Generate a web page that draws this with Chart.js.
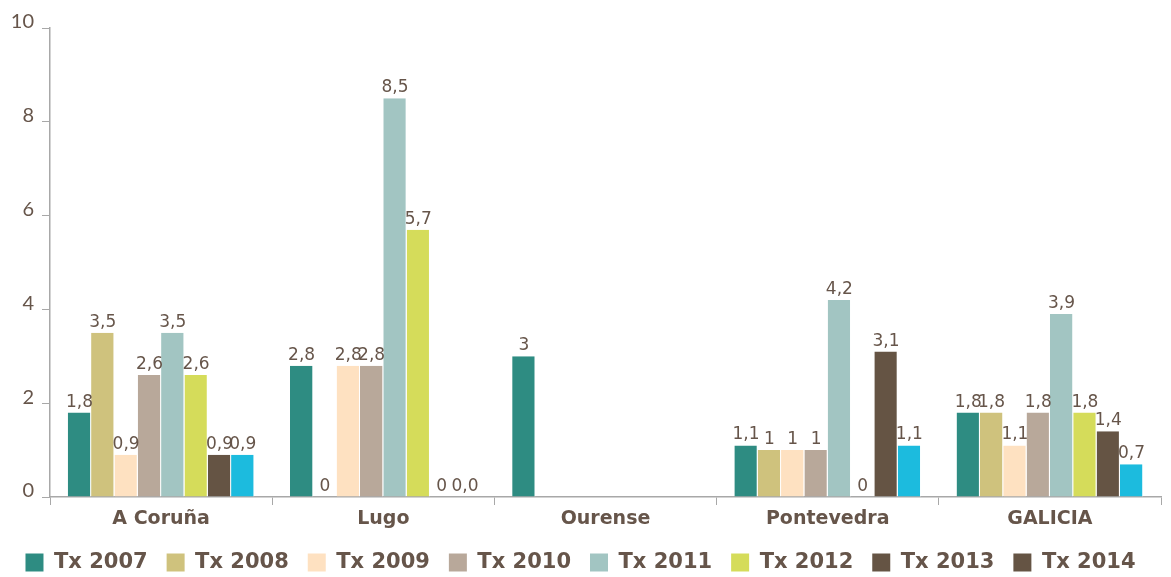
<!DOCTYPE html>
<html>
<head>
<meta charset="utf-8">
<script src="https://cdn.jsdelivr.net/npm/chart.js@4"></script>
<style>
  html, body { margin: 0; padding: 0; background: #fff; }
  #wrap { width: 1171px; height: 577px; }
</style>
</head>
<body>
<div id="wrap"><canvas id="chart"></canvas></div>
<script>
// provincias
const provincias = ['A Coruña', 'Lugo', 'Ourense', 'Pontevedra', 'GALICIA'];
const series = ['Tx 2007', 'Tx 2008', 'Tx 2009', 'Tx 2010', 'Tx 2011', 'Tx 2012', 'Tx 2013', 'Tx 2014'];

// valores por ano (null = sen dato)
const tx2007 = [1.8, 2.8, 3, 1.1, 1.8];
const tx2008 = [3.5, 0, null, 1, 1.8];
const tx2009 = [0.9, 2.8, null, 1, 1.1];
const tx2010 = [2.6, 2.8, null, 1, 1.8];
const tx2011 = [3.5, 8.5, null, 4.2, 3.9];
const tx2012 = [2.6, 5.7, null, 0, 1.8];
const tx2013 = [0.9, 0, null, 3.1, 1.4];
const tx2014 = [0.9, 0.01, null, 1.1, 0.7];

const yTicks = [0, 2, 4, 6, 8, 10];

const colors = ['#2E8C82', '#CFC27D', '#FEE1C1', '#B8A89A', '#A2C5C2', '#D5DC5A', '#655444', '#1CBBDE'];
// na lenda orixinal Tx 2014 aparece coa mesma cor ca Tx 2013
const legendColors = ['#2E8C82', '#CFC27D', '#FEE1C1', '#B8A89A', '#A2C5C2', '#D5DC5A', '#655444', '#655444'];

const textColor = '#66554A';
const axisColor = '#A8A8A8';

const allData = [tx2007, tx2008, tx2009, tx2010, tx2011, tx2012, tx2013, tx2014];

function fmt(v) {
    if (Number.isInteger(v)) return String(v);
    return v.toFixed(1).replace('.', ',');
}

// etiquetas enriba das barras
const valueLabels = {
    id: 'valueLabels',
    afterDatasetsDraw(chart) {
        const ctx = chart.ctx;
        ctx.save();
        ctx.font = '17px "DejaVu Sans"';
        ctx.fillStyle = textColor;
        ctx.textAlign = 'center';
        ctx.textBaseline = 'alphabetic';
        chart.data.datasets.forEach((ds, i) => {
            const meta = chart.getDatasetMeta(i);
            meta.data.forEach((bar, j) => {
                const v = ds.data[j];
                if (v === null || v === undefined) return;
                ctx.fillText(fmt(v), bar.x, bar.y - 6);
            });
        });
        ctx.restore();
    }
};

new Chart(document.getElementById('chart'), {
    type: 'bar',
    data: {
        labels: provincias,
        datasets: series.map((name, i) => ({
            label: name,
            data: allData[i],
            backgroundColor: colors[i],
            borderColor: '#ffffff',
            borderWidth: { top: 0, left: 0, right: 1, bottom: 0 },
            borderSkipped: false,
            categoryPercentage: 0.84,
            barPercentage: 1
        }))
    },
    options: {
        responsive: true,
        maintainAspectRatio: false,
        animation: false,
        layout: { padding: { top: 28, right: 10, left: 0, bottom: -6 } },
        plugins: {
            tooltip: { enabled: false },
            legend: {
                position: 'bottom',
                labels: {
                    boxWidth: 18,
                    boxHeight: 18,
                    padding: 19,
                    color: textColor,
                    font: { family: 'DejaVu Sans', size: 21, weight: 'bold' },
                    generateLabels(chart) {
                        const items = Chart.defaults.plugins.legend.labels.generateLabels(chart);
                        items.forEach((it, i) => {
                            it.fillStyle = legendColors[i];
                            it.strokeStyle = legendColors[i];
                            it.lineWidth = 0;
                        });
                        return items;
                    }
                }
            }
        },
        scales: {
            x: {
                grid: { drawOnChartArea: false, tickLength: 8, color: axisColor, offset: true },
                border: { color: axisColor, width: 1.5 },
                ticks: {
                    color: textColor,
                    padding: 3,
                    font: { family: 'DejaVu Sans', size: 19, weight: 'bold' }
                },
                afterFit(scale) { scale.height = 36; }
            },
            y: {
                min: 0,
                max: 10,
                afterBuildTicks(scale) { scale.ticks = yTicks.map(v => ({ value: v })); },
                grid: { drawOnChartArea: false, tickLength: 8, color: axisColor },
                border: { color: axisColor, width: 1.5 },
                ticks: {
                    color: textColor,
                    padding: 8,
                    labelOffset: -6,
                    font: { family: 'Lato', size: 20, weight: 'normal' }
                },
                afterFit(scale) { scale.width = 50; }
            }
        }
    },
    plugins: [valueLabels]
});
</script>
</body>
</html>
